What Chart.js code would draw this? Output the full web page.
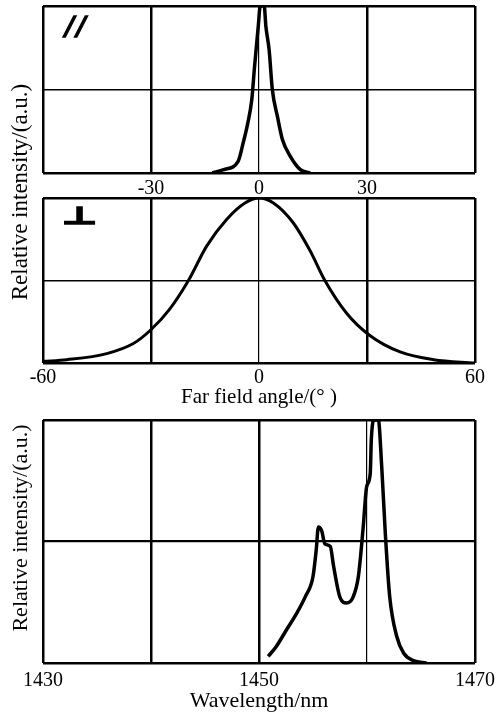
<!DOCTYPE html>
<html>
<head>
<meta charset="utf-8">
<script src="https://cdn.jsdelivr.net/npm/chart.js@4.4.1/dist/chart.umd.min.js"></script>
<style>
    body { margin: 0; background: #fff; width: 496px; height: 716px; position: relative; overflow: hidden; font-family: "Liberation Serif", serif; }
    .box { position: absolute; left: 0; width: 496px; }
    .ytitle { position: absolute; color: #000; white-space: nowrap; transform: translate(-50%, -50%) rotate(-90deg); }
    .mark { position: absolute; color: #000; line-height: 1; -webkit-text-stroke: 1.6px #000; }
</style>
</head>
<body>
<div class="box" style="top:0;height:198px"><canvas id="par_chart"></canvas></div>
<div class="box" style="top:190px;height:220px"><canvas id="perp_chart"></canvas></div>
<div class="box" style="top:410px;height:306px"><canvas id="spec_chart"></canvas></div>

<div class="ytitle" style="left:20px;top:192px;font-size:23px">Relative intensity/(a.u.)</div>
<div class="ytitle" style="left:20px;top:528px;font-size:22px">Relative intensity/(a.u.)</div>
<div class="mark" style="left:65px;top:11px;font-size:31px;font-weight:bold;font-style:italic;letter-spacing:3px">//</div>
<div class="mark" style="left:62px;top:204px;font-size:24px;font-weight:bold;font-family:'DejaVu Sans';transform:scaleX(1.6);transform-origin:left top">⊥</div>

<script>
// parallel far field (top panel)
const parAngle = [-13, -9.8, -5.8, -4.4, -3.1, -2.0, -1.3, -0.8, -0.2, 0.35, 1.45, 1.9, 2.8, 3.7, 5.1, 6.5, 8.7, 11.5, 14.2];
const parIntensity = [0, 0.02, 0.07, 0.18, 0.30, 0.44, 0.62, 0.74, 0.88, 1.0, 1.0, 0.88, 0.74, 0.5, 0.34, 0.2, 0.1, 0.02, 0];
const parTicks = [-30, 0, 30];

// perpendicular far field (middle panel)
const perpAngle = [-60, -53.4, -42.3, -34.9, -30.1, -24.7, -19.6, -14.5, -9, -3.9, 0, 4, 9.5, 14.2, 18.3, 24.4, 30.6, 39.2, 48.5, 60];
const perpIntensity = [0.01, 0.02, 0.057, 0.118, 0.2, 0.33, 0.5, 0.71, 0.87, 0.97, 1.0, 0.97, 0.85, 0.68, 0.5, 0.30, 0.17, 0.067, 0.02, 0];
const perpTicks = [-60, 0, 60];

// spectrum (bottom panel)
const wavelength = [1450.85, 1451.6, 1452.55, 1453.5, 1454.3, 1455.0, 1455.3, 1455.5, 1455.8, 1456.1, 1456.6, 1456.9, 1457.5, 1458.1, 1458.7, 1459.2, 1459.65, 1459.97, 1460.3, 1460.4, 1460.65, 1461.05, 1461.36, 1461.7, 1462.1, 1462.75, 1463.4, 1464.3, 1465.5];
const spectrum = [0.027, 0.068, 0.137, 0.205, 0.274, 0.356, 0.466, 0.56, 0.545, 0.49, 0.48, 0.40, 0.27, 0.247, 0.27, 0.356, 0.56, 0.726, 0.78, 0.92, 1.0, 1.0, 0.81, 0.53, 0.274, 0.11, 0.04, 0.01, 0];
const specTicks = [1430, 1450, 1470];

Chart.defaults.font.family = '"Liberation Serif", serif';
Chart.defaults.color = '#000';

function toPoints(xs, ys) {
    return xs.map((x, i) => ({ x: x, y: ys[i] }));
}

function makeChart(id, opts) {
    new Chart(document.getElementById(id), {
        type: 'line',
        data: {
            datasets: [{
                data: toPoints(opts.xs, opts.ys),
                borderColor: '#000',
                borderWidth: opts.lineWidth,
                pointRadius: 0,
                tension: opts.tension,
                cubicInterpolationMode: 'monotone',
                fill: false
            }]
        },
        options: {
            responsive: true,
            maintainAspectRatio: false,
            animation: false,
            layout: { padding: { top: opts.padTop, right: 21, left: 0, bottom: 0 } },
            plugins: { legend: { display: false }, tooltip: { enabled: false } },
            scales: {
                x: {
                    type: 'linear',
                    min: opts.min,
                    max: opts.max,
                    afterFit: (scale) => {
                        scale.height = opts.axisHeight;
                        scale.paddingLeft = 0;
                        scale.paddingRight = 0;
                    },
                    border: { display: false },
                    grid: {
                        color: '#000',
                        drawTicks: false,
                        lineWidth: (ctx) => opts.gridWidth(ctx.tick ? ctx.tick.value : 0)
                    },
                    ticks: {
                        stepSize: opts.step,
                        autoSkip: false,
                        maxRotation: 0,
                        padding: opts.tickPad,
                        font: { size: 20 },
                        callback: (v) => opts.labels.includes(v) ? String(v) : ''
                    },
                    title: {
                        display: !!opts.title,
                        text: opts.title || '',
                        font: { size: opts.titleSize || 21 },
                        padding: { top: 0, bottom: opts.titlePad || 0 }
                    }
                },
                y: {
                    min: 0,
                    max: 1,
                    afterFit: (scale) => { scale.width = 43; },
                    border: { display: false },
                    grid: {
                        color: '#000',
                        drawTicks: false,
                        lineWidth: (ctx) => (ctx.tick && ctx.tick.value === 0.5) ? opts.midWidth : 2.5
                    },
                    ticks: { display: false, stepSize: 0.5 }
                }
            }
        }
    });
}

makeChart('par_chart', {
    xs: parAngle, ys: parIntensity, labels: parTicks,
    min: -60, max: 60, step: 30, padTop: 6, axisHeight: 25, tickPad: 4,
    lineWidth: 3.5, tension: 0.2, midWidth: 1.6,
    gridWidth: (v) => v === 0 ? 1.2 : 2.5
});

makeChart('perp_chart', {
    xs: perpAngle, ys: perpIntensity, labels: perpTicks,
    min: -60, max: 60, step: 30, padTop: 8, axisHeight: 47, tickPad: 3,
    lineWidth: 3, tension: 0.4, midWidth: 1.6,
    title: 'Far field angle/(° )', titlePad: 0,
    gridWidth: (v) => v === 0 ? 1.2 : 2.5
});

makeChart('spec_chart', {
    xs: wavelength, ys: spectrum, labels: specTicks,
    min: 1430, max: 1470, step: 10, padTop: 10, axisHeight: 53, tickPad: 6,
    lineWidth: 3.5, tension: 0.3, midWidth: 2.2,
    title: 'Wavelength/nm', titlePad: 2, titleSize: 22,
    gridWidth: (v) => v === 1460 ? 1.2 : 2.5
});
</script>
</body>
</html>
